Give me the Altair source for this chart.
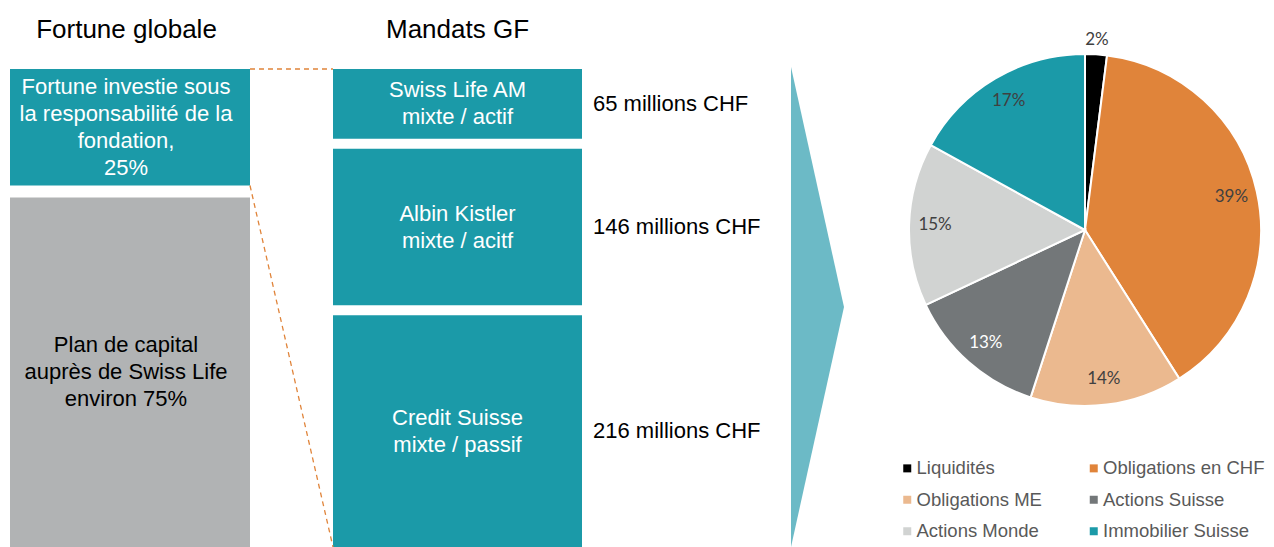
import altair as alt
import pandas as pd

# ---------------- data ----------------
titles = ["Fortune globale", "Mandats GF"]
fortune_text = ["Fortune investie sous\nla responsabilité de la\nfondation,\n{}%",
                "Plan de capital\nauprès de Swiss Life\nenviron {}%"]
fortune_pct = [25, 75]
mandat_text = ["Swiss Life AM\nmixte / actif", "Albin Kistler\nmixte / acitf", "Credit Suisse\nmixte / passif"]
mandat_mchf = [65, 146, 216]
alloc_cat = ["Liquidités", "Obligations en CHF", "Obligations ME",
             "Actions Suisse", "Actions Monde", "Immobilier Suisse"]
alloc_pct = [2, 39, 14, 13, 15, 17]

# ---------------- styles ----------------
TEAL = "#1B9AA8"
GREY = "#B1B3B4"
ARROW = "#6CBAC6"
ORANGE = "#E0843A"
alloc_colors = ["#000000", "#E0843A", "#EBB98F", "#737779", "#D1D3D2", "#1B9AA8"]
FONT = "Liberation Sans"
W, H = 1258, 539
GAP_MID = 9.3
GAP_LEFT = 11.2
LH = 27  # text line height in px

# middle column: stacked mandates (millions CHF)
rows, pos = [], 0.0
for t, v in zip(mandat_text, mandat_mchf):
    rows.append(dict(label=t, y0=pos, y1=pos + v, amount=f"{v} millions CHF"))
    pos += v + GAP_MID
stack_end = pos - GAP_MID
PX_PER_UNIT = 478 / stack_end
df_mid = pd.DataFrame(rows)
df_mid["mid"] = (df_mid.y0 + df_mid.y1) / 2
df_mid["ytxt"] = df_mid.mid - (df_mid.label.str.count("\n")) * LH / 2 / PX_PER_UNIT

# left column: same total height, split by share
avail = stack_end - GAP_LEFT
rows, pos = [], 0.0
for t, p, fill, tc in zip(fortune_text, fortune_pct, [TEAL, GREY], ["#FFFFFF", "#000000"]):
    h = avail * p / 100
    rows.append(dict(label=t.format(p), y0=pos, y1=pos + h, fill=fill, tcol=tc))
    pos += h + GAP_LEFT
df_left = pd.DataFrame(rows)
df_left["mid"] = (df_left.y0 + df_left.y1) / 2
df_left["ytxt"] = df_left.mid - (df_left.label.str.count("\n")) * LH / 2 / PX_PER_UNIT
left_top_end = df_left.y1[0]

df_links = pd.DataFrame({"ya": [0, left_top_end], "yb": [0, stack_end]})
df_titles = pd.DataFrame({"t": titles})
df_pie = pd.DataFrame({"cat": alloc_cat, "pct": alloc_pct, "idx": list(range(len(alloc_cat)))})
df_pie["lab"] = df_pie.pct.astype(str) + "%"

d0 = -61 * stack_end / 478
ys = alt.Scale(domain=[d0, stack_end], reverse=True, zero=False, nice=False)

left_rect = alt.Chart(df_left).mark_rect().encode(
    x=alt.value(2), x2=alt.value(242),
    y=alt.Y("y0:Q", scale=ys, axis=None), y2="y1:Q",
    color=alt.Color("fill:N", scale=None))
left_txt = alt.Chart(df_left).mark_text(font=FONT, fontSize=22, lineBreak="\n", lineHeight=LH,
                                        align="center", baseline="middle").encode(
    x=alt.value(118), y=alt.Y("ytxt:Q", scale=ys, axis=None), text="label:N",
    color=alt.Color("tcol:N", scale=None))

mid_rect = alt.Chart(df_mid).mark_rect(color=TEAL).encode(
    x=alt.value(325), x2=alt.value(574),
    y=alt.Y("y0:Q", scale=ys, axis=None), y2="y1:Q")
mid_txt = alt.Chart(df_mid).mark_text(font=FONT, fontSize=22, lineBreak="\n", lineHeight=LH,
                                      align="center", baseline="middle", color="#FFFFFF").encode(
    x=alt.value(449.5), y=alt.Y("ytxt:Q", scale=ys, axis=None), text="label:N")
amt_txt = alt.Chart(df_mid).mark_text(font=FONT, fontSize=22, align="left", baseline="middle",
                                      color="#000000").encode(
    x=alt.value(585), y=alt.Y("mid:Q", scale=ys, axis=None), text="amount:N")

links = alt.Chart(df_links).mark_rule(color=ORANGE, strokeDash=[5, 4], strokeWidth=1.3).encode(
    x=alt.value(242), x2=alt.value(325),
    y=alt.Y("ya:Q", scale=ys, axis=None), y2="yb:Q")

title_txt = alt.Chart(df_titles).mark_text(font=FONT, fontSize=26, baseline="alphabetic",
                                           color="#000000").encode(
    x=alt.X("t:N", scale=alt.Scale(domain=titles, range=[118.5, 449.5], padding=0), axis=None),
    y=alt.value(30), text="t:N")

arrow = alt.Chart(pd.DataFrame({"a": [0]})).mark_point(
    shape="M -0.1104 -1 L 0.1104 0 L -0.1104 1 Z", size=230400, filled=True,
    color=ARROW, opacity=1, strokeWidth=0).encode(x=alt.value(809.5), y=alt.value(299))

CX, CY, R = 1077, 222, 176
theta_scale = alt.Scale(domain=[0, sum(alloc_pct)])
pie = alt.Chart(df_pie).mark_arc(outerRadius=R, stroke="#FFFFFF", strokeWidth=2).encode(
    theta=alt.Theta("pct:Q", stack=True, scale=theta_scale),
    order=alt.Order("idx:Q"),
    color=alt.Color("cat:N", scale=alt.Scale(domain=alloc_cat, range=alloc_colors),
                    legend=alt.Legend(orient="none", legendX=890, legendY=451, columns=2,
                                      direction="horizontal",
                                      symbolType="square", symbolSize=64, symbolStrokeWidth=0,
                                      labelFont=FONT, labelFontSize=18.5, labelColor="#595959",
                                      labelOffset=0, columnPadding=42.5, rowPadding=12.5,
                                      padding=0, title=None, labelLimit=300)),
    x=alt.value(CX), y=alt.value(CY))
pie_lab = alt.Chart(df_pie).transform_window(
    cum="sum(pct)", sort=[alt.SortField("idx", order="ascending")], frame=[None, 0]
).transform_calculate(
    midp="datum.cum - datum.pct / 2",
    lr="datum.pct < 5 ? 190 : 150"
).mark_text(font="Lato", fontSize=17).encode(
    theta=alt.Theta("midp:Q", stack=None, scale=theta_scale),
    radius=alt.Radius("lr:Q", scale=None),
    text="lab:N",
    color=alt.condition(alt.datum.cat == "Actions Suisse", alt.value("#FFFFFF"), alt.value("#404040")),
    x=alt.value(CX), y=alt.value(CY))

chart = alt.layer(left_rect, left_txt, mid_rect, mid_txt, amt_txt, links, title_txt, arrow,
                  pie, pie_lab).properties(
    width=W, height=H, padding=0, autosize=alt.AutoSizeParams(type="none"),
    background="#FFFFFF").configure_view(stroke=None)

chart.save("out.html", embed_options={"renderer": "svg", "actions": False})
